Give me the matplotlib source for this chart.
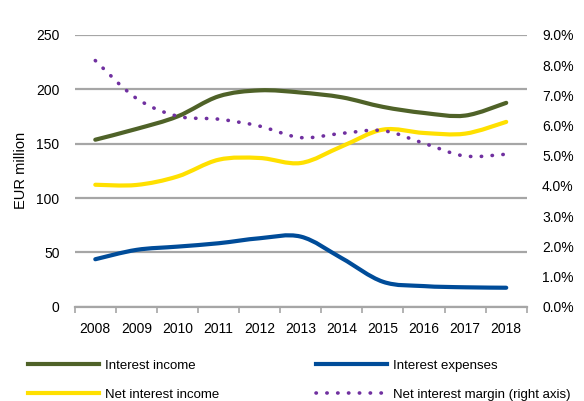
import matplotlib
matplotlib.use("Agg")
import matplotlib.pyplot as plt
from matplotlib.path import Path
from matplotlib.patches import PathPatch
from matplotlib.lines import Line2D
from matplotlib.ticker import FuncFormatter, MultipleLocator
import numpy as np

plt.rcParams["font.family"] = ["Liberation Sans", "DejaVu Sans"]

years = ["2008", "2009", "2010", "2011", "2012", "2013",
         "2014", "2015", "2016", "2017", "2018"]
interest_income = [153.6, 163.5, 175, 193.5, 199, 197, 192.6, 183.8, 178.2, 175.8, 187.5]
interest_expenses = [43.7, 52.3, 55.3, 58.4, 63, 64.5, 44.6, 23, 19, 17.9, 17.5]
net_interest_income = [112.2, 112, 119.8, 135.2, 136.8, 132.2, 147.5, 162.9, 159.8, 159.2, 170]
net_interest_margin = [8.15, 6.9, 6.31, 6.21, 5.98, 5.6, 5.74, 5.83, 5.41, 4.99, 5.05]

GREEN = "#4F6228"
BLUE = "#004C99"
YELLOW = "#FFE000"
PURPLE = "#7030A0"
GRID = "#A6A6A6"


def smooth_path(xs, ys):
    # excel-like smoothed line as a chain of cubic beziers
    pts = np.column_stack([xs, ys]).astype(float)
    n = len(pts)
    verts = [pts[0]]
    codes = [Path.MOVETO]
    for i in range(n - 1):
        p0 = pts[max(i - 1, 0)]
        p1 = pts[i]
        p2 = pts[i + 1]
        p3 = pts[min(i + 2, n - 1)]
        c1 = p1 + (p2 - p0) / 6.0
        c2 = p2 - (p3 - p1) / 6.0
        verts += [c1, c2, p2]
        codes += [Path.CURVE4] * 3
    return Path(verts, codes)


def add_curve(ax, ys, color, **kw):
    x = np.arange(len(ys))
    patch = PathPatch(smooth_path(x, ys), facecolor="none", edgecolor=color,
                      capstyle="round", joinstyle="round", **kw)
    ax.add_patch(patch)
    return patch


fig = plt.figure(figsize=(5.84, 4.01), dpi=100)
ax = fig.add_axes([0.128, 0.235, 0.774, 0.678])
ax2 = ax.twinx()

ax.set_xlim(-0.5, len(years) - 0.5)
ax.set_ylim(0, 250)
ax2.set_ylim(0, 9)

ax.yaxis.set_major_locator(MultipleLocator(50))
ax.grid(axis="y", color=GRID, linewidth=1.6)
ax.set_axisbelow(True)

add_curve(ax, interest_income, GREEN, linewidth=3.0, zorder=3)
add_curve(ax, interest_expenses, BLUE, linewidth=3.0, zorder=3)
add_curve(ax, net_interest_income, YELLOW, linewidth=3.0, zorder=3)
add_curve(ax2, net_interest_margin, PURPLE, linewidth=2.6,
          linestyle=(0, (0.1, 2.9)), zorder=3)

# x axis: category labels, ticks at boundaries
ax.set_xticks(np.arange(len(years)))
ax.set_xticklabels(years, fontsize=10)
ax.set_xticks(np.arange(len(years) + 1) - 0.5, minor=True)
ax.tick_params(axis="x", which="major", length=0, pad=11)
ax.tick_params(axis="x", which="minor", length=4, width=1.2, color=GRID, direction="out")
ax.tick_params(axis="y", length=0, labelsize=10, pad=11)
ax2.tick_params(axis="y", length=0, labelsize=10, pad=11)
ax2.yaxis.set_major_locator(MultipleLocator(1))
ax2.yaxis.set_major_formatter(FuncFormatter(lambda v, p: f"{v:.1f}%"))

for a in (ax, ax2):
    for s in ("top", "left", "right"):
        a.spines[s].set_visible(False)
ax2.spines["bottom"].set_visible(False)
ax.spines["bottom"].set_color(GRID)
ax.spines["bottom"].set_linewidth(1.6)

ax.set_ylabel("EUR million", fontsize=10.5, labelpad=6)

handles = [
    Line2D([], [], color=GREEN, linewidth=3.0),
    Line2D([], [], color=YELLOW, linewidth=3.0),
    Line2D([], [], color=BLUE, linewidth=3.0),
    Line2D([], [], color=PURPLE, linewidth=2.6, linestyle=(0, (0.1, 2.9)),
           dash_capstyle="round"),
]
labels = ["Interest income", "Net interest income",
          "Interest expenses", "Net interest margin (right axis)"]
fig.legend(handles, labels, ncol=2, loc="upper left",
           bbox_to_anchor=(0.048, 0.103), frameon=False, fontsize=9.5,
           handlelength=5.4, handletextpad=0.45, labelspacing=1.28,
           columnspacing=7.3, borderpad=0, borderaxespad=0)

fig.savefig("out.png", dpi=100)
